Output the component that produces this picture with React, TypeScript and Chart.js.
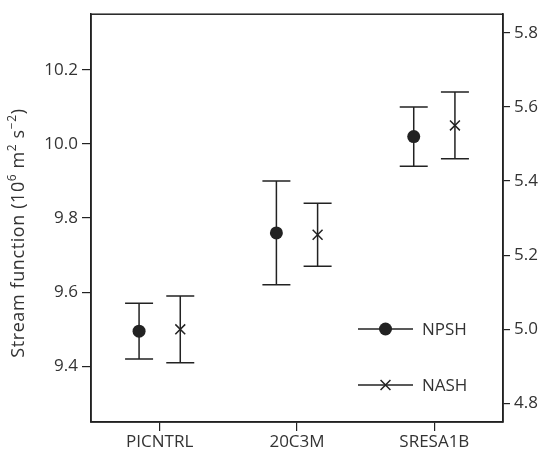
import React, { useEffect, useRef } from 'react';
import { Chart, registerables } from 'chart.js';

Chart.register(...registerables);

const categories = ['PICNTRL', '20C3M', 'SRESA1B'];
const npshMean = [9.495, 9.76, 10.02];
const npshLow = [9.42, 9.62, 9.94];
const npshHigh = [9.57, 9.9, 10.1];
const nashMean = [5.0, 5.255, 5.55];
const nashLow = [4.91, 5.17, 5.46];
const nashHigh = [5.09, 5.34, 5.64];
const leftTicks = [9.4, 9.6, 9.8, 10.0, 10.2];
const rightTicks = [4.8, 5.0, 5.2, 5.4, 5.6, 5.8];
const seriesNames = ['NPSH', 'NASH'];

const FONT = '"Open Sans", "DejaVu Sans", sans-serif';
const INK = '#222';
const TEXT = '#333';

const errorBars = {
  id: 'errorBars',
  beforeDatasetsDraw(chart: any) {
    const ctx = chart.ctx;
    const lows = [npshLow, nashLow];
    const highs = [npshHigh, nashHigh];
    ctx.save();
    ctx.strokeStyle = INK;
    ctx.lineWidth = 1.5;
    chart.data.datasets.forEach((ds: any, d: number) => {
      const meta = chart.getDatasetMeta(d);
      const ys = chart.scales[meta.yAxisID];
      meta.data.forEach((pt: any, i: number) => {
        const x = pt.x;
        const yl = ys.getPixelForValue(lows[d][i]);
        const yh = ys.getPixelForValue(highs[d][i]);
        ctx.beginPath();
        ctx.moveTo(x, yl);
        ctx.lineTo(x, yh);
        ctx.moveTo(x - 14, yl);
        ctx.lineTo(x + 14, yl);
        ctx.moveTo(x - 14, yh);
        ctx.lineTo(x + 14, yh);
        ctx.stroke();
      });
    });
    ctx.restore();
  },
  afterDraw(chart: any) {
    const ctx = chart.ctx;
    const a = chart.chartArea;
    ctx.save();
    // frame
    ctx.strokeStyle = INK;
    ctx.lineWidth = 1.5;
    ctx.strokeRect(a.left, a.top, a.right - a.left, a.bottom - a.top);

    // legend
    const rows = [a.bottom - 93, a.bottom - 37];
    rows.forEach((y, k) => {
      const x0 = a.right - 145;
      const x1 = a.right - 90;
      const xm = (x0 + x1) / 2;
      ctx.strokeStyle = INK;
      ctx.lineWidth = 1.5;
      ctx.beginPath();
      ctx.moveTo(x0, y);
      ctx.lineTo(x1, y);
      ctx.stroke();
      if (k === 0) {
        ctx.fillStyle = INK;
        ctx.beginPath();
        ctx.arc(xm, y, 6.5, 0, Math.PI * 2);
        ctx.fill();
      } else {
        const r = 7 * Math.SQRT1_2;
        ctx.beginPath();
        ctx.moveTo(xm - r, y - r);
        ctx.lineTo(xm + r, y + r);
        ctx.moveTo(xm - r, y + r);
        ctx.lineTo(xm + r, y - r);
        ctx.stroke();
      }
      ctx.fillStyle = TEXT;
      ctx.font = `17px ${FONT}`;
      ctx.textAlign = 'left';
      ctx.textBaseline = 'middle';
      ctx.fillText(seriesNames[k], a.right - 81, y + 1);
    });

    // y-axis title with superscripts
    const parts: [string, boolean][] = [
      ['Stream function (10', false],
      ['6', true],
      [' m', false],
      ['2', true],
      [' s', false],
      ['\u22122', true],
      [')', false],
    ];
    const big = `18px ${FONT}`;
    const small = `12px ${FONT}`;
    try {
      (ctx as any).letterSpacing = '0.6px';
    } catch (e) {
      /* ignore */
    }
    let total = 0;
    parts.forEach(([t, sup]) => {
      ctx.font = sup ? small : big;
      total += ctx.measureText(t).width;
    });
    ctx.translate(19, (a.top + a.bottom) / 2 + 15);
    ctx.rotate(-Math.PI / 2);
    ctx.fillStyle = TEXT;
    ctx.textAlign = 'left';
    ctx.textBaseline = 'middle';
    let cx = -total / 2;
    parts.forEach(([t, sup]) => {
      ctx.font = sup ? small : big;
      ctx.fillText(t, cx, sup ? -6 : 0);
      cx += ctx.measureText(t).width;
    });
    try {
      (ctx as any).letterSpacing = '0px';
    } catch (e) {
      /* ignore */
    }
    ctx.restore();
  },
};

export default function App() {
  const ref = useRef<HTMLCanvasElement | null>(null);
  useEffect(() => {
    document.body.style.margin = '0';
    const canvas = ref.current;
    if (!canvas) return;
    const tickFont = { family: FONT, size: 17 };
    const chart = new Chart(canvas, {
      type: 'scatter',
      data: {
        datasets: [
          {
            label: seriesNames[0],
            data: categories.map((_, i) => ({ x: i - 0.15, y: npshMean[i] })),
            yAxisID: 'y',
            pointStyle: 'circle',
            pointRadius: 6.5,
            backgroundColor: INK,
            borderColor: INK,
            borderWidth: 0,
          },
          {
            label: seriesNames[1],
            data: categories.map((_, i) => ({ x: i + 0.15, y: nashMean[i] })),
            yAxisID: 'y2',
            pointStyle: 'crossRot',
            pointRadius: 7,
            backgroundColor: INK,
            borderColor: INK,
            borderWidth: 1.5,
          },
        ],
      },
      options: {
        animation: false,
        responsive: true,
        maintainAspectRatio: false,
        layout: { padding: { top: 11, left: 0, right: 0, bottom: 0 } },
        plugins: { legend: { display: false }, tooltip: { enabled: false } },
        scales: {
          x: {
            type: 'linear',
            min: -0.5,
            max: 2.5,
            afterBuildTicks: (s: any) => {
              s.ticks = categories.map((_, i) => ({ value: i }));
            },
            afterFit: (s: any) => {
              s.height = 34;
            },
            ticks: {
              callback: (v: any) => categories[Math.round(Number(v))] ?? '',
              font: tickFont,
              color: TEXT,
              padding: 1,
              maxRotation: 0,
            },
            grid: { drawOnChartArea: false, drawTicks: true, tickLength: 9, color: INK, lineWidth: 1.2 },
            border: { display: true, color: INK, width: 1.5 },
          },
          y: {
            type: 'linear',
            position: 'left',
            min: 9.25,
            max: 10.35,
            afterBuildTicks: (s: any) => {
              s.ticks = leftTicks.map((v) => ({ value: v }));
            },
            afterFit: (s: any) => {
              s.width = 91;
            },
            ticks: {
              callback: (v: any) => Number(v).toFixed(1),
              font: tickFont,
              color: TEXT,
              padding: 4,
            },
            grid: { drawOnChartArea: false, drawTicks: true, tickLength: 9, color: INK, lineWidth: 1.2 },
            border: { display: true, color: INK, width: 1.5 },
          },
          y2: {
            type: 'linear',
            position: 'right',
            min: 4.75,
            max: 5.85,
            afterBuildTicks: (s: any) => {
              s.ticks = rightTicks.map((v) => ({ value: v }));
            },
            afterFit: (s: any) => {
              s.width = 42;
            },
            ticks: {
              callback: (v: any) => Number(v).toFixed(1),
              font: tickFont,
              color: TEXT,
              padding: 4,
            },
            grid: { drawOnChartArea: false, drawTicks: true, tickLength: 7, color: INK, lineWidth: 1.2 },
            border: { display: true, color: INK, width: 1.5 },
          },
        },
      },
      plugins: [errorBars],
    } as any);
    return () => chart.destroy();
  }, []);
  return (
    <div style={{ width: 545, height: 456, position: 'relative' }}>
      <canvas ref={ref} />
    </div>
  );
}
